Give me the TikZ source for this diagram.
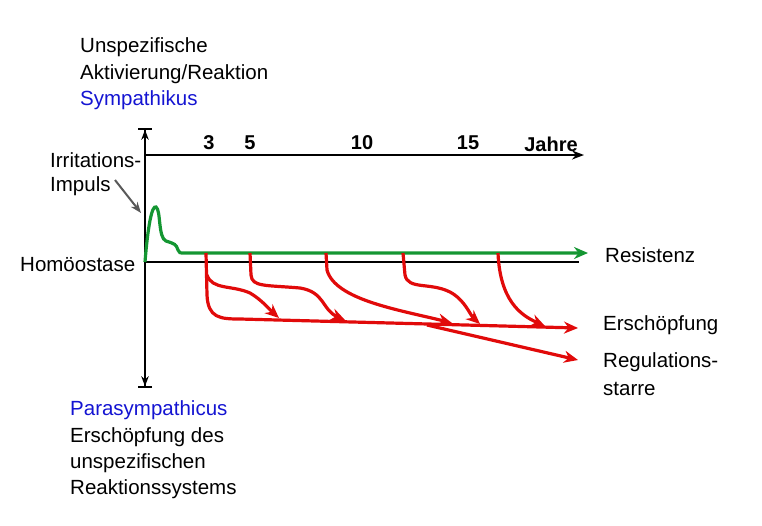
\documentclass[tikz,border=0pt]{standalone}
\usepackage{fontspec}
\setmainfont{Liberation Sans}
\usetikzlibrary{arrows.meta}
\begin{document}
\begin{tikzpicture}[x=1pt,y=-1pt,
  lbl/.style={anchor=west,inner sep=0pt,font=\fontsize{20.5}{26}\selectfont,align=left},
  num/.style={inner sep=0pt,font=\fontsize{20}{22}\selectfont\bfseries},
  ax/.style={line width=1.8pt,black},
  grn/.style={line width=3.2pt,draw={rgb,255:red,20;green,150;blue,50}},
  red/.style={line width=3.2pt,draw={rgb,255:red,225;green,10;blue,10},-{Stealth[length=14pt,width=12pt]}}]
\useasboundingbox (0,0) rectangle (762,525);
\definecolor{blu}{RGB}{20,20,210}
% axes
\coordinate (vt) at (145,128); \coordinate (vb) at (145,388);
\draw[ax,{Bar[width=14pt]Stealth[length=10pt]}-{Stealth[length=10pt]Bar[width=14pt]}] (vt) -- (vb);
\coordinate (t0) at (145,155); \coordinate (t1) at (584,155);
\draw[ax,-{Stealth[length=12pt]}] (t0) -- (t1);
\coordinate (b0) at (145,262); \coordinate (b1) at (579,262);
\draw[ax] (b0) -- (b1);
\node[num] (n3) at (209,143) {3};
\node[num] (n5) at (250,143) {5};
\node[num] (n10) at (362,143) {10};
\node[num] (n15) at (468,143) {15};
\node[num] (nj) at (551,144) {Jahre};
% green
\coordinate (g1) at (588,253);
\draw[grn,-{Stealth[length=14pt,width=12pt]}] (b0) .. controls (148,225) and (152,205) .. (156,207)
  .. controls (161,210) and (158,238) .. (166,241) .. controls (175,244) and (176,244) .. (178,250)
  .. controls (179,253) and (180,253) .. (184,253) -- (g1);
% red
\draw[red] (206,253) -- (207,295) .. controls (208,318) and (220,319) .. (240,319) -- (578,328);
\draw[red] (207,275) .. controls (212,290) and (232,285) .. (250,293) .. controls (262,300) and (270,310) .. (279,318);
\draw[red] (250,253) -- (251,275) .. controls (252,287) and (265,285) .. (300,288) .. controls (325,292) and (322,310) .. (345,320);
\draw[red] (326,253) -- (327,270) .. controls (335,300) and (400,310) .. (452,323);
\draw[red] (403,253) -- (405,275) .. controls (408,290) and (430,282) .. (450,292) .. controls (465,300) and (470,315) .. (480,324);
\draw[red] (498,253) .. controls (500,300) and (520,315) .. (545,326);
\draw[red] (427,325) -- (578,360);
% grey arrow
\coordinate (ia) at (115,180); \coordinate (ib) at (141,213);
\draw[line width=2pt,gray!70!black,-{Stealth[length=11pt]}] (ia) -- (ib);
% labels
\node[lbl] (l1) at (80,47) {Unspezifische};
\node[lbl] (l2) at (80,74) {Aktivierung/Reaktion};
\node[lbl,text=blu] (l3) at (80,100) {Sympathikus};
\node[lbl] (l4) at (50,160) {Irritations-};
\node[lbl] (l5) at (50,186) {Impuls};
\node[lbl] (l6) at (20,265) {Homöostase};
\node[lbl] (l7) at (605,255) {Resistenz};
\node[lbl] (l8) at (603,325) {Erschöpfung};
\node[lbl] (l9) at (603,362) {Regulations-};
\node[lbl] (l10) at (603,389) {starre};
\node[lbl,text=blu] (l11) at (70,410) {Parasympathicus};
\node[lbl] (l12) at (70,437) {Erschöpfung des};
\node[lbl] (l13) at (70,463) {unspezifischen};
\node[lbl] (l14) at (70,489) {Reaktionssystems};
\end{tikzpicture}
\end{document}
